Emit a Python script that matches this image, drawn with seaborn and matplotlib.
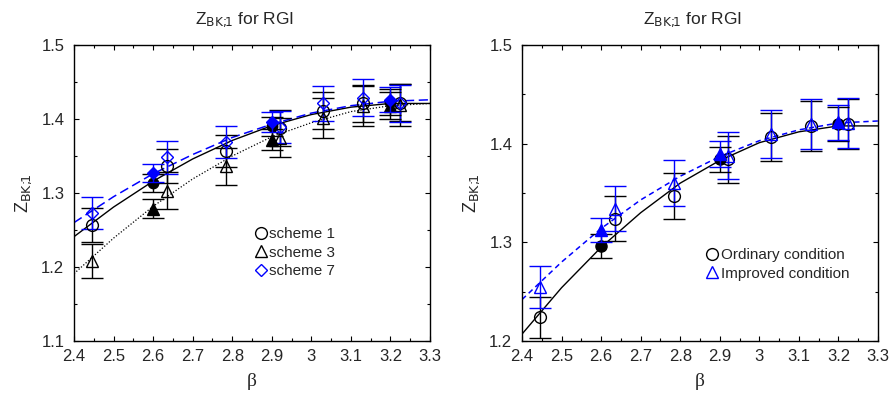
import numpy as np
import pandas as pd
import matplotlib
matplotlib.use("Agg")
import matplotlib.pyplot as plt
import seaborn as sns
from matplotlib.lines import Line2D
from matplotlib.ticker import MultipleLocator, FuncFormatter

# ---------------- data ----------------
beta_open = [2.445, 2.635, 2.785, 2.92, 3.03, 3.13, 3.225]
beta_filled = [2.6, 2.9, 3.2]
beta_curve = [2.4, 2.5, 2.6, 2.7, 2.8, 2.9, 3.0, 3.1, 3.2, 3.3]

# left panel
s1_open = [1.257, 1.336, 1.357, 1.388, 1.411, 1.421, 1.422]
s1_open_err = [0.023, 0.023, 0.022, 0.024, 0.025, 0.025, 0.025]
s1_fill = [1.314, 1.390, 1.423]
s1_fill_err = [0.012, 0.013, 0.018]
s3_open = [1.208, 1.303, 1.336, 1.375, 1.402, 1.417, 1.419]
s3_open_err = [0.023, 0.025, 0.025, 0.026, 0.027, 0.027, 0.028]
s3_fill = [1.279, 1.372, 1.418]
s3_fill_err = [0.013, 0.014, 0.018]
s7_open = [1.273, 1.348, 1.369, 1.389, 1.421, 1.429, 1.421]
s7_open_err = [0.021, 0.022, 0.022, 0.022, 0.024, 0.025, 0.025]
s7_fill = [1.327, 1.396, 1.426]
s7_fill_err = [0.012, 0.013, 0.017]
s1_curve = [1.241, 1.281, 1.316, 1.346, 1.371, 1.391, 1.406, 1.416, 1.421, 1.421]
s3_curve = [1.191, 1.239, 1.282, 1.319, 1.350, 1.376, 1.395, 1.410, 1.418, 1.421]
s7_curve = [1.260, 1.295, 1.326, 1.352, 1.375, 1.393, 1.408, 1.418, 1.424, 1.426]

# right panel
ord_open = [1.224, 1.324, 1.347, 1.384, 1.407, 1.418, 1.420]
ord_open_err = [0.021, 0.0225, 0.023, 0.024, 0.0245, 0.025, 0.025]
ord_fill = [1.296, 1.384, 1.420]
ord_fill_err = [0.012, 0.013, 0.017]
imp_open = [1.255, 1.334, 1.360, 1.388, 1.410, 1.420, 1.421]
imp_open_err = [0.0215, 0.023, 0.023, 0.024, 0.0245, 0.025, 0.0255]
imp_fill = [1.3125, 1.3895, 1.4215]
imp_fill_err = [0.0125, 0.013, 0.018]
ord_curve = [1.207, 1.254, 1.295, 1.330, 1.360, 1.383, 1.401, 1.412, 1.418, 1.418]
imp_curve = [1.242, 1.280, 1.314, 1.343, 1.367, 1.387, 1.403, 1.414, 1.421, 1.423]

BLUE = (0, 0, 1)

sns.set_theme(style="ticks")
plt.rcParams["font.family"] = ["Liberation Sans", "DejaVu Sans"]
plt.rcParams["mathtext.default"] = "regular"

fig = plt.figure(figsize=(8.91, 3.96), dpi=100)
axL = fig.add_axes([74 / 891, 55 / 396, 356 / 891, 296 / 396])
axR = fig.add_axes([522 / 891, 55 / 396, 356 / 891, 296 / 396])


def pts(ax, x, y, e, marker, color, filled, ms, ecolor=None, z=3):
    ax.errorbar(x, y, yerr=e, fmt="none", ecolor=ecolor or color,
                elinewidth=1.0, capsize=8, capthick=1.0, zorder=z)
    ax.plot(x, y, linestyle="none", marker=marker, markersize=ms,
            markeredgecolor=color, markerfacecolor=color if filled else "none",
            markeredgewidth=1.0, zorder=z + 1)


def curve(ax, y, color, ls, lw=1.0, dashes=None):
    df = pd.DataFrame({"beta": beta_curve, "z": y})
    sns.lineplot(data=df, x="beta", y="z", ax=ax, color=color, lw=lw,
                 linestyle=ls, zorder=2)
    if dashes is not None:
        ax.lines[-1].set_dashes(dashes)


# left panel
curve(axL, s1_curve, "black", "-", 1.0)
curve(axL, s3_curve, "black", ":", 0.9, dashes=(1, 1.5))
curve(axL, s7_curve, BLUE, "--", 1.1, dashes=(6, 3))
pts(axL, beta_open, s3_open, s3_open_err, "^", "black", False, 9)
pts(axL, beta_open, s1_open, s1_open_err, "o", "black", False, 8.5)
pts(axL, beta_open, s7_open, s7_open_err, "D", BLUE, False, 6.5)
pts(axL, beta_filled, s3_fill, s3_fill_err, "^", "black", True, 8, z=5)
pts(axL, beta_filled, s1_fill, s1_fill_err, "o", "black", True, 7.5, z=5)
pts(axL, beta_filled, s7_fill, s7_fill_err, "D", BLUE, True, 6, z=6)

# right panel
curve(axR, ord_curve, "black", "-", 1.0)
curve(axR, imp_curve, BLUE, "--", 1.1, dashes=(3.5, 2.5))
pts(axR, beta_open, ord_open, ord_open_err, "o", "black", False, 8.5)
pts(axR, beta_open, imp_open, imp_open_err, "^", BLUE, False, 9)
pts(axR, beta_filled, ord_fill, ord_fill_err, "o", "black", True, 8, z=5)
pts(axR, beta_filled, imp_fill, imp_fill_err, "^", BLUE, True, 8.5, z=6)

sub = r"Z$_{\mathrm{BK;\!\!1}}$"
fmt = FuncFormatter(lambda v, p: f"{v:g}")
for ax, ylo in ((axL, 1.1), (axR, 1.2)):
    ax.set_xlim(2.4, 3.3)
    ax.set_ylim(ylo, 1.5)
    ax.xaxis.set_major_locator(MultipleLocator(0.1))
    ax.xaxis.set_minor_locator(MultipleLocator(0.05))
    ax.yaxis.set_major_locator(MultipleLocator(0.1))
    ax.yaxis.set_minor_locator(MultipleLocator(0.05))
    ax.xaxis.set_major_formatter(fmt)
    ax.yaxis.set_major_formatter(fmt)
    ax.tick_params(which="both", direction="in", top=True, right=True,
                   color="black", width=0.8)
    ax.tick_params(which="major", length=3.5, labelsize=12)
    ax.tick_params(which="minor", length=2.5)
    ax.tick_params(axis="y", which="major", pad=7)
    ax.tick_params(axis="x", which="major", pad=6)
    for s in ax.spines.values():
        s.set_visible(True)
        s.set_color("black")
        s.set_linewidth(1.0)
    ax.set_xlabel("β", fontsize=14, family=["Liberation Serif", "DejaVu Serif"],
                  labelpad=6)
    ax.set_ylabel(sub, fontsize=13, labelpad=5)
    ax.set_title(sub + " for RGI", fontsize=12.5, pad=15, x=0.478)
    ax.grid(False)
    ax.set_facecolor("white")

legL = [Line2D([], [], ls="none", marker="o", ms=8.5, mfc="none", mec="black", mew=1.0),
        Line2D([], [], ls="none", marker="^", ms=9, mfc="none", mec="black", mew=1.0),
        Line2D([], [], ls="none", marker="D", ms=6.5, mfc="none", mec=BLUE, mew=1.0)]
axL.legend(legL, ["scheme 1", "scheme 3", "scheme 7"], loc="upper left",
           bbox_to_anchor=(0.49, 0.405), frameon=False, fontsize=11,
           handlelength=0.8, handletextpad=0.15, labelspacing=0.3,
           borderaxespad=0)

legR = [Line2D([], [], ls="none", marker="o", ms=8.5, mfc="none", mec="black", mew=1.0),
        Line2D([], [], ls="none", marker="^", ms=9, mfc="none", mec=BLUE, mew=1.0)]
axR.legend(legR, ["Ordinary condition", "Improved condition"], loc="upper left",
           bbox_to_anchor=(0.50, 0.335), frameon=False, fontsize=11,
           handlelength=0.8, handletextpad=0.15, labelspacing=0.3,
           borderaxespad=0)

fig.savefig("out.png", dpi=100, facecolor="white")
